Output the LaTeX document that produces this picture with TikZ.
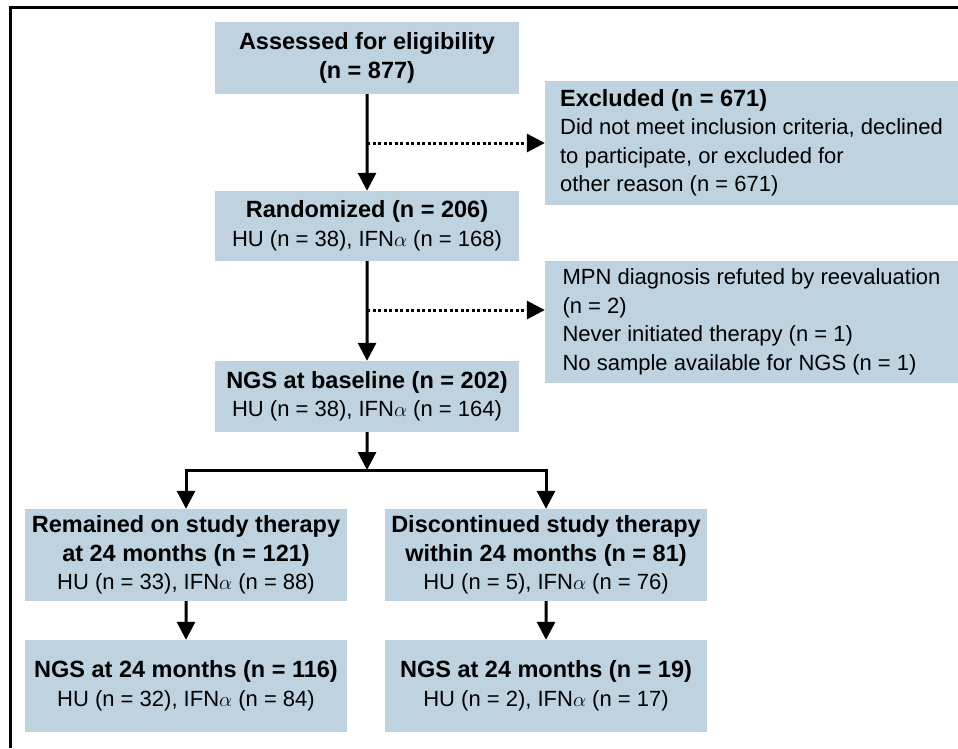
\documentclass[tikz,border=0pt]{standalone}
\usepackage{fontspec}
\setmainfont{Liberation Sans}
\usetikzlibrary{arrows.meta}
\definecolor{boxblue}{RGB}{190,211,223}
\newcommand{\boxhead}[1]{{\fontsize{23.5}{28.5}\selectfont\bfseries #1}}
\begin{document}
\begin{tikzpicture}[scale=0.35146]
	\tikzstyle{every node}+=[inner sep=0pt]
	\tikzstyle{flowbox}=[fill=boxblue, align=center, font=\fontsize{22}{28.5}\selectfont]
	\tikzstyle{sidebox}=[fill=boxblue, align=left, font=\fontsize{22}{28.5}\selectfont, minimum width=413pt]
	\tikzstyle{arr}=[black, line width=3pt, -{Triangle[length=18pt,width=18pt]}]
	\tikzstyle{dotarr}=[black, line width=3pt, dash pattern=on 3pt off 2.5pt, -{Triangle[length=18pt,width=18pt]}]
	\useasboundingbox (0,0) rectangle (95.8,-74.8);
	\draw [black, line width=3pt] (95.8,-0.7) -- (1.0,-0.7) -- (1.0,-74.8);
	\node [flowbox, minimum width=304pt, minimum height=72pt] (assessed) at (36.7,-5.8) {\boxhead{Assessed for eligibility}\\\boxhead{(n = 877)}};
	\node [sidebox, minimum height=124pt] (excluded) at (75.15,-14.3) {\boxhead{Excluded (n = 671)}\\Did not meet inclusion criteria, declined\\to participate, or excluded for\\other reason (n = 671)};
	\node [flowbox, minimum width=304pt, minimum height=70pt] (randomized) at (36.7,-22.6) {\boxhead{Randomized (n = 206)}\\HU (n = 38), IFN$\alpha$ (n = 168)};
	\node [sidebox, minimum height=122pt] (refuted) at (75.15,-32.2) {MPN diagnosis refuted by reevaluation\\(n = 2)\\Never initiated therapy (n = 1)\\No sample available for NGS (n = 1)};
	\node [flowbox, minimum width=304pt, minimum height=71pt] (baseline) at (36.7,-39.65) {\boxhead{NGS at baseline (n = 202)}\\HU (n = 38), IFN$\alpha$ (n = 164)};
	\node [flowbox, minimum width=322pt, minimum height=92pt] (remained) at (18.6,-55.5) {\boxhead{Remained on study therapy}\\\boxhead{at 24 months (n = 121)}\\HU (n = 33), IFN$\alpha$ (n = 88)};
	\node [flowbox, minimum width=322pt, minimum height=92pt] (discont) at (54.6,-55.5) {\boxhead{Discontinued study therapy}\\\boxhead{within 24 months (n = 81)}\\HU (n = 5), IFN$\alpha$ (n = 76)};
	\node [flowbox, minimum width=322pt, minimum height=92pt] (ngsrem) at (18.6,-68.6) {\boxhead{NGS at 24 months (n = 116)}\\HU (n = 32), IFN$\alpha$ (n = 84)};
	\node [flowbox, minimum width=322pt, minimum height=92pt] (ngsdis) at (54.6,-68.6) {\boxhead{NGS at 24 months (n = 19)}\\HU (n = 2), IFN$\alpha$ (n = 17)};
	\coordinate (d1) at (36.7,-14.3);
	\coordinate (d2) at (36.7,-31.0);
	\coordinate (split) at (36.7,-47.0);
	\draw [arr] (assessed) -- (randomized);
	\draw [dotarr] (d1) -- (d1 -| excluded.west);
	\draw [arr] (randomized) -- (baseline);
	\draw [dotarr] (d2) -- (d2 -| refuted.west);
	\draw [arr] (baseline) -- (split);
	\draw [arr] (split) -| (remained.north);
	\draw [arr] (split) -| (discont.north);
	\draw [arr] (remained) -- (ngsrem);
	\draw [arr] (discont) -- (ngsdis);
\end{tikzpicture}
\end{document}
